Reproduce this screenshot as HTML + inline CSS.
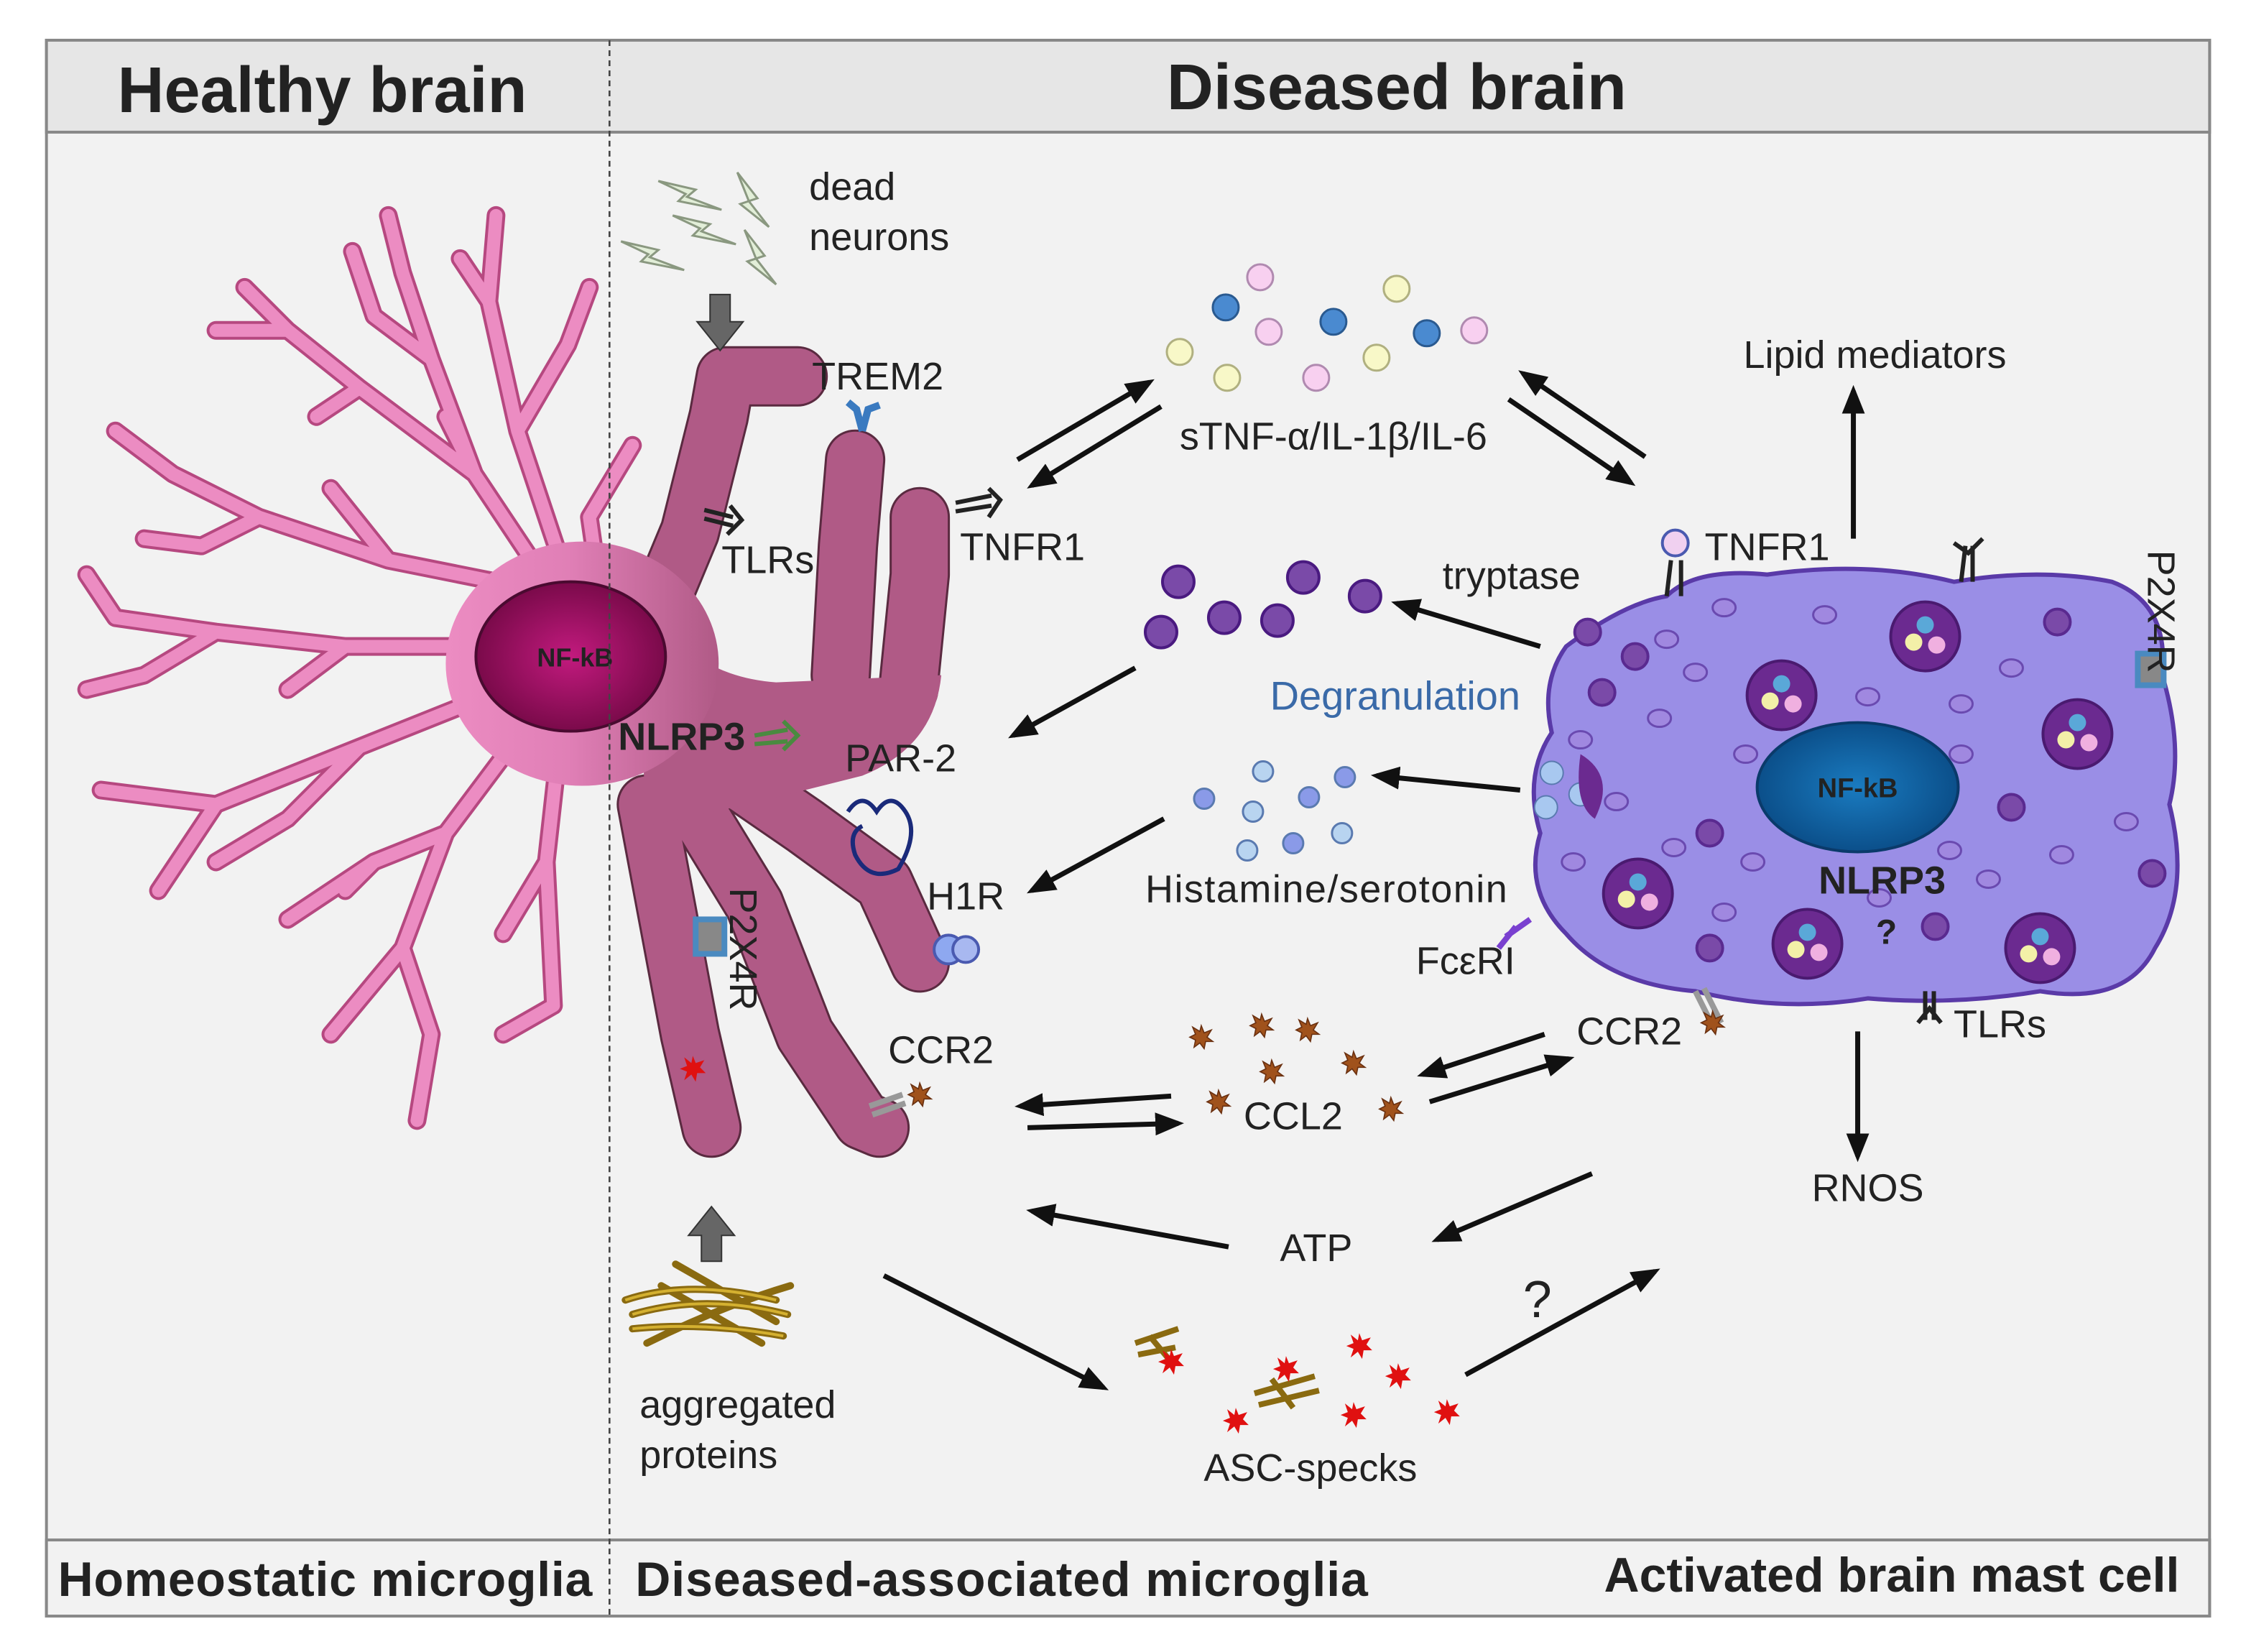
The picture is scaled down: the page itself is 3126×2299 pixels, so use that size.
<!DOCTYPE html>
<html><head><meta charset="utf-8"><style>
html,body{margin:0;padding:0;background:#fff}
svg{display:block}
text{font-family:"Liberation Sans",Arial,sans-serif;fill:#222}
</style></head><body>
<svg width="3126" height="2299" viewBox="0 0 1563 1150" xmlns="http://www.w3.org/2000/svg">
<defs>
<marker id="a" markerWidth="20" markerHeight="16" refX="16" refY="8" orient="auto" markerUnits="userSpaceOnUse"><path d="M0,0 L20,8 L0,16 z" fill="#111"/></marker>
<radialGradient id="nuc" cx="50%" cy="50%" r="50%"><stop offset="0" stop-color="#c21a7e"/><stop offset="1" stop-color="#7a0a4a"/></radialGradient>
<radialGradient id="mnuc" cx="50%" cy="50%" r="50%"><stop offset="0" stop-color="#1a7bc0"/><stop offset="1" stop-color="#0b4f8a"/></radialGradient>
<linearGradient id="soma" x1="0" x2="1" y1="0" y2="0"><stop offset="0" stop-color="#ec8cc2"/><stop offset="0.45" stop-color="#e07fb6"/><stop offset="1" stop-color="#b05a86"/></linearGradient>
<g id="gr"><circle r="9" fill="#7a4aa8" stroke="#5a2a90" stroke-width="2"/></g>
<g id="sg"><ellipse rx="8" ry="6" fill="#a088e0" stroke="#6a4ab0" stroke-width="1.5"/></g>
<g id="big"><circle r="24" fill="#6b2a90" stroke="#4a1a70" stroke-width="2"/><circle cx="-8" cy="4" r="6" fill="#f3f0a8"/><circle cx="8" cy="6" r="6" fill="#f0b0e0"/><circle cx="0" cy="-8" r="6" fill="#5aa8d8"/></g>
<g id="star"><path d="M0,-8 L2,-3 L7,-5 L4,0 L8,3 L3,3 L2,8 L-1,4 L-5,7 L-4,2 L-8,0 L-4,-2 L-6,-7 L-1,-4 z" fill="#a0521c" stroke="#6a3010" stroke-width="0.8"/></g>
<g id="red"><path d="M0,-9 L2,-4 L8,-6 L5,-1 L9,3 L3,3 L2,9 L-1,4 L-6,8 L-4,2 L-9,0 L-4,-2 L-6,-8 L-1,-4 z" fill="#e01010"/></g>
<g id="bolt"><path d="M0,0 L26,6 L20,11 L44,20 L14,14 L19,9 Z" fill="#e2eed8" stroke="#8a9880" stroke-width="1.5"/></g>
<g id="vbolt"><path d="M0,0 L14,18 L8,20 L22,38 L2,22 L8,20 Z" fill="#e2eed8" stroke="#8a9880" stroke-width="1.5"/></g>
</defs>
<rect x="0" y="0" width="1563" height="1150" fill="#fff"/>
<rect x="32" y="28" width="1506" height="1097" fill="#f2f2f2" stroke="#888" stroke-width="2"/>
<rect x="32" y="28" width="1506" height="64" fill="#e6e6e6" stroke="#888" stroke-width="2"/>
<rect x="32" y="1072" width="1506" height="53" fill="#f2f2f2" stroke="#888" stroke-width="2"/>
<text x="224" y="78" font-size="45" font-weight="bold" text-anchor="middle" fill="#111">Healthy  brain</text>
<text x="972" y="76" font-size="45" font-weight="bold" text-anchor="middle" fill="#111">Diseased brain</text>
<text x="40" y="1111" font-size="34" font-weight="bold" fill="#111" textLength="372">Homeostatic microglia</text>
<text x="442" y="1111" font-size="34" font-weight="bold" fill="#111" textLength="510">Diseased-associated microglia</text>
<text x="1517" y="1108" font-size="34" font-weight="bold" text-anchor="end" fill="#111">Activated brain mast cell</text>

<!-- healthy microglia -->
<g fill="none" stroke-linecap="round" stroke-linejoin="round">
<g id="br">
<path d="M390,420 L330,330 L300,250 L280,190 L270,150 M300,250 L260,220 L245,175 M330,330 L250,270 L200,230 M250,270 L220,290 M200,230 L170,200 M200,230 L150,230 M370,410 L270,390 L180,360 L120,330 M180,360 L140,380 L100,375 M270,390 L230,340 M350,450 L240,450 L150,440 L80,430 M150,440 L100,470 L60,480 M240,450 L200,480 M350,480 L250,520 L150,560 L70,550 M250,520 L200,570 L150,600 M150,560 L110,620 M370,500 L310,580 L280,660 L230,720 M310,580 L260,600 L200,640 M280,660 L300,720 L290,780 M260,600 L240,620 M400,420 L360,300 L340,210 L345,150 M360,300 L395,240 L410,200 M340,210 L320,180 M420,430 L410,360 L440,310 M330,330 L310,290 M390,510 L380,600 L385,700 M380,600 L350,650 M385,700 L350,720 M120,330 L80,300 M80,430 L60,400"/>
</g>
<use href="#br" stroke="#b64880" stroke-width="13"/>
<use href="#br" stroke="#ec8cc2" stroke-width="9"/>
</g>

<!-- diseased microglia -->
<g fill="none" stroke-linecap="round" stroke-linejoin="round">
<path id="dm" d="M455,430 L480,370 L500,290 L505,262 L555,262 M585,470 L590,380 L595,320 M632,480 L640,400 L640,360 M480,520 L560,575 L615,615 L640,670 M470,540 L525,630 L560,720 L600,780 L612,785 M450,560 L465,640 L480,720 L495,785"/>
<use href="#dm" stroke="#5a2a40" stroke-width="42"/>
<use href="#dm" stroke="#b05a86" stroke-width="39"/>
</g>
<path d="M440,400 Q470,470 540,475 L655,470 Q650,520 600,540 L520,560 L450,575 Z" fill="#b05a86"/>
<ellipse cx="405" cy="462" rx="95" ry="85" fill="url(#soma)"/>
<ellipse cx="397" cy="457" rx="66" ry="52" fill="url(#nuc)" stroke="#4a0a30" stroke-width="2"/>
<text x="400" y="464" font-size="18" font-weight="bold" text-anchor="middle" fill="#111">NF-kB</text>
<line x1="424" y1="28" x2="424" y2="1125" stroke="#444" stroke-width="1.3" stroke-dasharray="4,3"/>

<!-- receptors on microglia -->
<path d="M600,300 L596,285 L590,280 M600,300 L604,285 L612,282" stroke="#3a7ac0" stroke-width="5" fill="none"/>
<path d="M665,350 L690,345 M665,356 L690,352 M688,340 L696,348 L688,360" stroke="#222" stroke-width="3" fill="none"/>
<path d="M490,355 L510,360 M490,361 L510,366 M508,352 L516,362 L506,372" stroke="#222" stroke-width="3" fill="none"/>
<path d="M525,512 L548,508 M525,518 L548,516 M545,502 L555,512 L545,522" stroke="#4a8a40" stroke-width="3" fill="none"/>
<path d="M590,565 q10,-15 20,0 q10,-15 20,0 q10,15 -5,40 q-20,10 -30,-10 q-5,-15 5,-20" stroke="#1a2a7a" stroke-width="3" fill="none"/>
<circle cx="660" cy="661" r="10" fill="#8ea8f0" stroke="#4a5ab0" stroke-width="2"/><circle cx="672" cy="661" r="9" fill="#a8b8f0" stroke="#4a5ab0" stroke-width="2"/>
<rect x="484" y="640" width="20" height="24" fill="#888" stroke="#4a8ac0" stroke-width="4"/>
<use href="#red" x="482" y="744"/>
<path d="M605,770 L628,762 M607,776 L630,768" stroke="#999" stroke-width="4"/>
<use href="#star" x="640" y="762"/>

<text x="565" y="271" font-size="27">TREM2</text>
<text x="502" y="399" font-size="27">TLRs</text>
<text x="668" y="390" font-size="27">TNFR1</text>
<text x="430" y="522" font-size="27" font-weight="bold" fill="#111">NLRP3</text>
<text x="588" y="537" font-size="27">PAR-2</text>
<text x="645" y="633" font-size="27">H1R</text>
<text x="618" y="740" font-size="27">CCR2</text>
<text x="508" y="618" font-size="27" transform="rotate(90 508 618)">P2X4R</text>

<!-- dead neurons -->
<use href="#bolt" x="458" y="126"/><use href="#bolt" x="432" y="168"/><use href="#bolt" x="468" y="150"/>
<use href="#vbolt" x="513" y="120"/><use href="#vbolt" x="518" y="160"/>
<text x="563" y="139" font-size="27">dead</text>
<text x="563" y="174" font-size="27">neurons</text>
<path d="M494,205 L508,205 L508,224 L517,224 L501,244 L485,224 L494,224 Z" fill="#666" stroke="#333"/>
<path d="M488,878 L502,878 L502,860 L511,860 L495,840 L479,860 L488,860 Z" fill="#666" stroke="#333"/>
<g stroke="#8a6a10" stroke-width="5" fill="none" stroke-linecap="round">
<path d="M435,905 Q480,890 540,905 M440,915 Q490,900 548,915 M440,925 Q490,920 545,930 M460,895 L530,935 M450,935 Q500,910 550,895 M470,880 L540,920"/>
</g>
<g stroke="#d4b030" stroke-width="2" fill="none"><path d="M435,905 Q480,890 540,905 M440,915 Q490,900 548,915 M440,925 Q490,920 545,930"/></g>
<text x="445" y="987" font-size="27">aggregated</text>
<text x="445" y="1022" font-size="27">proteins</text>

<!-- cytokines -->
<g stroke-width="1.5">
<circle cx="877" cy="193" r="9" fill="#f8d0f0" stroke="#b08ab0"/>
<circle cx="972" cy="201" r="9" fill="#f8f8c8" stroke="#b0b080"/>
<circle cx="853" cy="214" r="9" fill="#4a8ad0" stroke="#2a5a90"/>
<circle cx="928" cy="224" r="9" fill="#4a8ad0" stroke="#2a5a90"/>
<circle cx="883" cy="231" r="9" fill="#f8d0f0" stroke="#b08ab0"/>
<circle cx="993" cy="232" r="9" fill="#4a8ad0" stroke="#2a5a90"/>
<circle cx="1026" cy="230" r="9" fill="#f8d0f0" stroke="#b08ab0"/>
<circle cx="821" cy="245" r="9" fill="#f8f8c8" stroke="#b0b080"/>
<circle cx="958" cy="249" r="9" fill="#f8f8c8" stroke="#b0b080"/>
<circle cx="854" cy="263" r="9" fill="#f8f8c8" stroke="#b0b080"/>
<circle cx="916" cy="263" r="9" fill="#f8d0f0" stroke="#b08ab0"/>
</g>
<text x="928" y="313" font-size="27" text-anchor="middle">sTNF-α/IL-1β/IL-6</text>
<g stroke="#111" stroke-width="3.5" marker-end="url(#a)">
<line x1="708" y1="320" x2="800" y2="266"/>
<line x1="808" y1="283" x2="718" y2="338"/>
<line x1="1145" y1="318" x2="1060" y2="260"/>
<line x1="1050" y1="278" x2="1135" y2="336"/>
<line x1="1290" y1="375" x2="1290" y2="272"/>
<line x1="1072" y1="450" x2="972" y2="420"/>
<line x1="790" y1="465" x2="705" y2="512"/>
<line x1="1058" y1="550" x2="958" y2="540"/>
<line x1="810" y1="570" x2="718" y2="620"/>
<line x1="815" y1="763" x2="710" y2="770"/>
<line x1="715" y1="785" x2="820" y2="782"/>
<line x1="1075" y1="720" x2="990" y2="748"/>
<line x1="995" y1="767" x2="1092" y2="737"/>
<line x1="1293" y1="718" x2="1293" y2="805"/>
<line x1="1108" y1="817" x2="1000" y2="863"/>
<line x1="855" y1="868" x2="718" y2="843"/>
<line x1="615" y1="888" x2="768" y2="966"/>
<line x1="1020" y1="957" x2="1152" y2="885"/>
</g>
<text x="1305" y="256" font-size="27" text-anchor="middle">Lipid  mediators</text>

<!-- tryptase granules -->
<g fill="#7a4aa8" stroke="#4a1a80" stroke-width="2">
<circle cx="820" cy="405" r="11"/><circle cx="907" cy="402" r="11"/><circle cx="950" cy="415" r="11"/>
<circle cx="808" cy="440" r="11"/><circle cx="852" cy="430" r="11"/><circle cx="889" cy="432" r="11"/>
</g>
<text x="1052" y="410" font-size="27" text-anchor="middle">tryptase</text>
<text x="971" y="494" font-size="28" text-anchor="middle" style="fill:#3a6aa8">Degranulation</text>
<g fill="#b8d4f0" stroke="#5a7ab0" stroke-width="1.5">
<circle cx="879" cy="537" r="7"/><circle cx="936" cy="541" r="7" fill="#8a9ae8"/><circle cx="838" cy="556" r="7" fill="#8a9ae8"/>
<circle cx="911" cy="555" r="7" fill="#8a9ae8"/><circle cx="872" cy="565" r="7"/><circle cx="934" cy="580" r="7"/>
<circle cx="868" cy="592" r="7"/><circle cx="900" cy="587" r="7" fill="#8a9ae8"/>
</g>
<text x="923" y="628" font-size="27" text-anchor="middle" textLength="252">Histamine/serotonin</text>

<!-- CCL2 -->
<use href="#star" x="836" y="722"/><use href="#star" x="878" y="714"/><use href="#star" x="910" y="717"/>
<use href="#star" x="885" y="746"/><use href="#star" x="942" y="740"/><use href="#star" x="848" y="767"/><use href="#star" x="968" y="772"/>
<text x="900" y="786" font-size="27" text-anchor="middle">CCL2</text>
<text x="1134" y="727" font-size="27" text-anchor="middle">CCR2</text>
<text x="916" y="878" font-size="27" text-anchor="middle">ATP</text>
<text x="1300" y="836" font-size="27" text-anchor="middle">RNOS</text>
<text x="1070" y="917" font-size="36" text-anchor="middle">?</text>

<!-- ASC specks -->
<g stroke="#8a6a10" stroke-width="4"><path d="M790,935 L820,925 M792,943 L818,938 M800,930 L815,948 M873,970 L915,958 M876,978 L918,968 M885,960 L900,980"/></g>
<use href="#red" x="815" y="948"/><use href="#red" x="895" y="953"/><use href="#red" x="946" y="937"/><use href="#red" x="973" y="958"/>
<use href="#red" x="860" y="989"/><use href="#red" x="942" y="985"/><use href="#red" x="1007" y="983"/>
<text x="912" y="1031" font-size="27" text-anchor="middle">ASC-specks</text>

<!-- mast cell -->
<path d="M1090,450 Q1130,420 1160,415 Q1180,395 1230,400 Q1300,390 1360,405 Q1420,395 1470,405 Q1510,420 1505,470 Q1520,520 1510,560 Q1525,620 1500,660 Q1480,700 1420,690 Q1360,700 1300,695 Q1240,705 1180,690 Q1120,685 1090,650 Q1060,620 1072,580 Q1060,540 1080,510 Q1072,475 1090,450 Z" fill="#9a8ee6" stroke="#5a3aa8" stroke-width="3"/>
<path d="M1160,415 L1163,390 M1170,415 L1170,390" stroke="#222" stroke-width="3"/>
<circle cx="1166" cy="378" r="9" fill="#f0d0f0" stroke="#4a5ab0" stroke-width="2"/>
<path d="M1365,405 L1368,380 M1373,405 L1373,380 M1360,378 L1370,385 L1380,375" stroke="#222" stroke-width="3" fill="none"/>
<rect x="1488" y="455" width="18" height="22" fill="#888" stroke="#4a8ac0" stroke-width="4"/>
<path d="M1048,652 L1065,640 M1055,645 L1043,660" stroke="#7a40d0" stroke-width="4"/>
<path d="M1180,690 L1192,714 M1186,688 L1198,712" stroke="#999" stroke-width="4"/>
<use href="#star" x="1192" y="712"/>
<path d="M1340,690 L1340,710 M1346,690 L1346,710 M1335,712 L1343,702 L1351,712" stroke="#222" stroke-width="3" fill="none"/>
<use href="#gr" x="1105" y="440"/><use href="#gr" x="1138" y="457"/><use href="#gr" x="1115" y="482"/>
<use href="#gr" x="1190" y="580"/><use href="#gr" x="1432" y="433"/><use href="#gr" x="1400" y="562"/><use href="#gr" x="1498" y="608"/><use href="#gr" x="1190" y="660"/><use href="#gr" x="1347" y="645"/>
<g fill="#a8c8f0" stroke="#5a7ab0"><circle cx="1080" cy="538" r="8"/><circle cx="1076" cy="562" r="8"/><circle cx="1100" cy="553" r="8"/></g>
<use href="#big" x="1340" y="443"/><use href="#big" x="1240" y="484"/><use href="#big" x="1446" y="511"/><use href="#big" x="1140" y="622"/><use href="#big" x="1258" y="657"/><use href="#big" x="1420" y="660"/>
<path d="M1100,525 Q1125,540 1110,570 Q1095,560 1100,525Z" fill="#6b2a90"/>
<use href="#sg" x="1200" y="423"/><use href="#sg" x="1270" y="428"/><use href="#sg" x="1160" y="445"/><use href="#sg" x="1180" y="468"/><use href="#sg" x="1300" y="485"/>
<use href="#sg" x="1365" y="490"/><use href="#sg" x="1400" y="465"/><use href="#sg" x="1155" y="500"/><use href="#sg" x="1215" y="525"/><use href="#sg" x="1365" y="525"/>
<use href="#sg" x="1480" y="572"/><use href="#sg" x="1125" y="558"/><use href="#sg" x="1095" y="600"/><use href="#sg" x="1165" y="590"/><use href="#sg" x="1220" y="600"/>
<use href="#sg" x="1357" y="592"/><use href="#sg" x="1435" y="595"/><use href="#sg" x="1200" y="635"/><use href="#sg" x="1308" y="625"/><use href="#sg" x="1384" y="612"/><use href="#sg" x="1100" y="515"/>
<ellipse cx="1293" cy="548" rx="70" ry="45" fill="url(#mnuc)" stroke="#0a3a6a" stroke-width="2"/>
<text x="1293" y="555" font-size="19" font-weight="bold" text-anchor="middle" fill="#111">NF-kB</text>
<text x="1310" y="622" font-size="27" font-weight="bold" text-anchor="middle" fill="#111">NLRP3</text>
<text x="1313" y="657" font-size="24" font-weight="bold" text-anchor="middle" fill="#111">?</text>
<text x="1230" y="390" font-size="27" text-anchor="middle">TNFR1</text>
<text x="1020" y="678" font-size="27" text-anchor="middle">FcεRI</text>
<text x="1392" y="722" font-size="27" text-anchor="middle">TLRs</text>
<text x="1495" y="383" font-size="27" transform="rotate(90 1495 383)">P2X4R</text>
</svg>
</body></html>
